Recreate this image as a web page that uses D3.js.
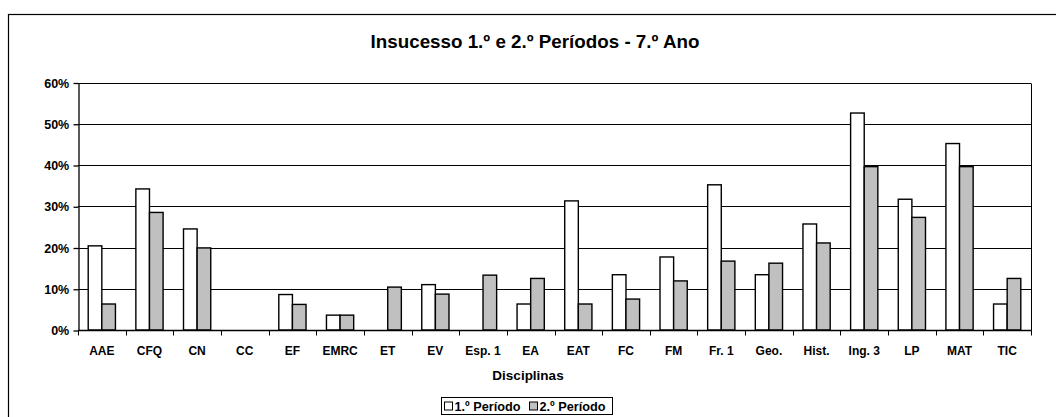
<!DOCTYPE html>
<html>
<head>
<meta charset="utf-8">
<script src="https://cdn.jsdelivr.net/npm/d3@7"></script>
<style>
  body { margin: 0; background: #fff; }
  svg text { font-family: "Liberation Sans", Arial, sans-serif; font-weight: bold; }
</style>
</head>
<body>
<svg width="1056" height="417"></svg>
<script>
// disciplinas e percentagens de insucesso
var categories = ["AAE", "CFQ", "CN", "CC", "EF", "EMRC", "ET", "EV", "Esp. 1", "EA",
                  "EAT", "FC", "FM", "Fr. 1", "Geo.", "Hist.", "Ing. 3", "LP", "MAT", "TIC"];
var periodo1 = [20.4, 34.2, 24.5, 0, 8.6, 3.6, 0, 11.0, 0, 6.3,
                31.3, 13.4, 17.7, 35.2, 13.4, 25.7, 52.6, 31.7, 45.2, 6.3];
var periodo2 = [6.3, 28.5, 19.9, 0, 6.2, 3.6, 10.4, 8.7, 13.3, 12.5,
                6.3, 7.5, 11.9, 16.7, 16.2, 21.1, 39.6, 27.3, 39.6, 12.5];
var seriesNames = ["1.º Período", "2.º Período"];
var seriesColors = ["#ffffff", "#c0c0c0"];
var yTicks = [0, 10, 20, 30, 40, 50, 60];

var svg = d3.select("svg");
var margin = { left: 78, top: 82.5, right: 1031, bottom: 330 };

// moldura exterior
svg.append("rect")
    .attr("x", 8.5).attr("y", 14.5)
    .attr("width", 1060).attr("height", 420)
    .attr("fill", "none").attr("stroke", "#000").attr("stroke-width", 1.2);

svg.append("text")
    .attr("x", 535).attr("y", 48)
    .attr("text-anchor", "middle")
    .attr("font-size", 18.8)
    .text("Insucesso 1.º e 2.º Períodos - 7.º Ano");

var x = d3.scaleBand()
    .domain(categories)
    .range([margin.left, margin.right]);

var xs = d3.scaleBand()
    .domain([0, 1])
    .range([0, x.bandwidth()])
    .paddingOuter(0.75);

var y = d3.scaleLinear()
    .domain([0, 60])
    .range([margin.bottom, margin.top]);

// grelha
svg.append("g")
    .selectAll("line")
    .data(yTicks.slice(1))
    .enter().append("line")
    .attr("x1", margin.left).attr("x2", margin.right)
    .attr("y1", d => Math.round(y(d)) + 0.5).attr("y2", d => Math.round(y(d)) + 0.5)
    .attr("stroke", "#000");

// borda direita da área do gráfico
svg.append("line")
    .attr("x1", margin.right + 0.5).attr("x2", margin.right + 0.5)
    .attr("y1", Math.round(y(60)) + 0.5).attr("y2", Math.round(y(0)) + 0.5)
    .attr("stroke", "#000");

// barras
var groups = svg.append("g")
    .selectAll("g")
    .data(categories)
    .enter().append("g")
    .attr("transform", d => "translate(" + x(d) + ",0)");

groups.selectAll("rect")
    .data((d, i) => [periodo1[i], periodo2[i]].map((v, s) => ({ v: v, s: s })))
    .enter().append("rect")
    .filter(d => d.v > 0)
    .attr("x", d => xs(d.s))
    .attr("width", xs.bandwidth())
    .attr("y", d => y(d.v))
    .attr("height", d => y(0) - y(d.v))
    .attr("fill", d => seriesColors[d.s])
    .attr("stroke", "#000")
    .attr("stroke-width", 1.4);

// eixo y
var yAxis = svg.append("g")
    .attr("transform", "translate(" + (margin.left + 0.5) + ",0.5)")
    .call(d3.axisLeft(y).tickValues(yTicks).tickSize(5).tickSizeOuter(0)
        .tickFormat(d => d + "%"));
yAxis.selectAll("text").attr("font-size", 12.5).attr("fill", "#000").attr("dx", "-0.1em");
yAxis.selectAll("line, path").attr("stroke", "#000").attr("stroke-width", 1.3);
yAxis.attr("font-family", null);

// eixo x: marcas nos limites das categorias
var xAxis = svg.append("g")
    .attr("transform", "translate(0," + (Math.round(y(0)) + 0.5) + ")");
xAxis.append("line")
    .attr("x1", margin.left).attr("x2", margin.right + 0.5)
    .attr("stroke", "#000").attr("stroke-width", 1.3);
xAxis.selectAll("line.tick")
    .data(categories.concat([null]))
    .enter().append("line")
    .attr("class", "tick")
    .attr("x1", (d, i) => Math.round(margin.left + i * x.step()) + 0.5)
    .attr("x2", (d, i) => Math.round(margin.left + i * x.step()) + 0.5)
    .attr("y1", 0).attr("y2", 5)
    .attr("stroke", "#000");
xAxis.selectAll("text")
    .data(categories)
    .enter().append("text")
    .attr("x", d => x(d) + x.bandwidth() / 2)
    .attr("y", 24.5)
    .attr("text-anchor", "middle")
    .attr("font-size", 12)
    .text(d => d);

svg.append("text")
    .attr("x", 528).attr("y", 380)
    .attr("text-anchor", "middle")
    .attr("font-size", 13.5)
    .text("Disciplinas");

// legenda
var legend = svg.append("g").attr("transform", "translate(441.5,397.5)");
legend.append("rect")
    .attr("width", 171).attr("height", 17)
    .attr("fill", "#fff").attr("stroke", "#000");
var items = legend.selectAll("g")
    .data(seriesNames)
    .enter().append("g")
    .attr("transform", (d, i) => "translate(" + (3 + i * 85) + ",0)");
items.append("rect")
    .attr("x", 0).attr("y", 4.5)
    .attr("width", 8).attr("height", 8)
    .attr("fill", (d, i) => seriesColors[i])
    .attr("stroke", "#000");
items.append("text")
    .attr("x", 10).attr("y", 13)
    .attr("font-size", 12.7)
    .text(d => d);
</script>
</body>
</html>
